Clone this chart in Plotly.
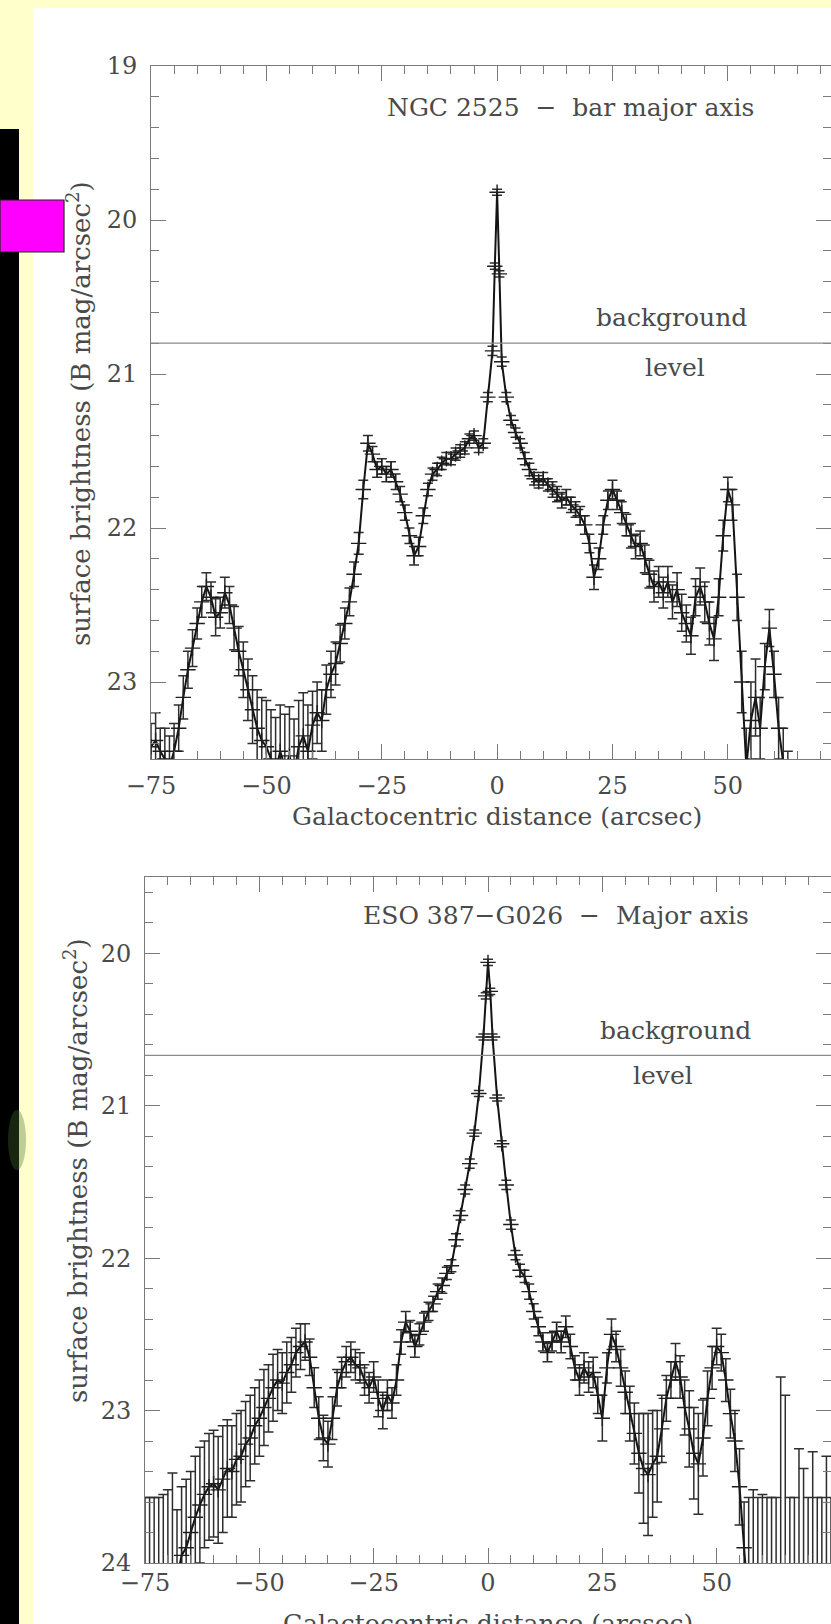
import plotly.graph_objects as go

# ---------------- Panel 1 : NGC 2525 - bar major axis ----------------
x1 = [-75, -74, -73, -72, -71, -70, -69, -68, -67, -66, -65, -64, -63, -62, -61, -60,
      -59, -58, -57, -56, -55, -54, -53, -52, -51, -50, -49, -48, -47, -46, -45, -44,
      -43, -42, -41, -40, -39, -38, -37, -36, -35, -34, -33, -32, -31, -30, -29, -28,
      -27, -26, -25, -24, -23, -22, -21, -20, -19, -18, -17, -16, -15, -14, -13, -12,
      -11, -10, -9, -8, -7, -6, -5, -4, -3, -2, -1, -0.5, 0, 0.5, 1, 2, 3, 4, 5, 6, 7,
      8, 9, 10, 11, 12, 13, 14, 15, 16, 17, 18, 19, 20, 21, 22, 23, 24, 25, 26, 27, 28,
      29, 30, 31, 32, 33, 34, 35, 36, 37, 38, 39, 40, 41, 42, 43, 44, 45, 46, 47, 48,
      49, 50, 51, 52, 53, 54, 55, 56, 57, 58, 59, 60, 61, 62, 63, 64]
y1 = [23.42, 23.38, 23.45, 23.50, 23.55, 23.45, 23.30, 23.10, 22.92, 22.78, 22.62, 22.48,
      22.38, 22.45, 22.58, 22.55, 22.42, 22.50, 22.65, 22.80, 22.92, 23.05, 23.18, 23.30,
      23.38, 23.42, 23.50, 23.58, 23.45, 23.55, 23.48, 23.60, 23.42, 23.35, 23.45, 23.28,
      23.20, 23.25, 23.05, 22.95, 22.88, 22.75, 22.62, 22.48, 22.30, 22.10, 21.75, 21.45,
      21.52, 21.62, 21.60, 21.65, 21.62, 21.70, 21.78, 21.90, 22.05, 22.18, 22.12, 21.92,
      21.75, 21.65, 21.62, 21.58, 21.55, 21.55, 21.52, 21.50, 21.48, 21.42, 21.40, 21.48,
      21.45, 21.15, 20.85, 20.30, 19.82, 20.35, 20.92, 21.15, 21.30, 21.38, 21.45, 21.55,
      21.62, 21.68, 21.70, 21.68, 21.72, 21.75, 21.78, 21.82, 21.80, 21.85, 21.88, 21.92,
      21.98, 22.10, 22.32, 22.20, 21.98, 21.82, 21.75, 21.82, 21.90, 21.98, 22.05, 22.12,
      22.10, 22.20, 22.30, 22.38, 22.35, 22.42, 22.35, 22.48, 22.40, 22.55, 22.62, 22.70,
      22.45, 22.38, 22.48, 22.62, 22.72, 22.45, 22.05, 21.75, 21.85, 22.45, 23.00, 23.55,
      23.25, 23.10, 23.30, 22.90, 22.65, 22.95, 23.30, 23.55, 23.75, 23.90]
e1 = [0.15, 0.18, 0.15, 0.20, 0.20, 0.18,
      0.15, 0.14, 0.12, 0.12, 0.10, 0.10, 0.09, 0.10, 0.12, 0.10,
      0.10, 0.12, 0.14, 0.16, 0.18, 0.20, 0.22, 0.25, 0.28, 0.30,
      0.32, 0.35, 0.30, 0.34, 0.32, 0.36, 0.30, 0.28, 0.30, 0.22,
      0.20, 0.20, 0.16, 0.15, 0.14, 0.12, 0.10, 0.09, 0.08, 0.07,
      0.06, 0.05, 0.05, 0.05, 0.05, 0.05, 0.05, 0.05, 0.05, 0.05,
      0.05, 0.06, 0.06, 0.05, 0.04, 0.04, 0.04, 0.04, 0.04, 0.04,
      0.04, 0.04, 0.04, 0.03, 0.03, 0.03, 0.03, 0.03, 0.03,
      0.02, 0.02, 0.02,
      0.03, 0.03, 0.03, 0.03, 0.03, 0.04, 0.04, 0.04, 0.04, 0.04,
      0.04, 0.05, 0.05, 0.05, 0.05, 0.05, 0.05, 0.06, 0.06, 0.06,
      0.08, 0.07, 0.06, 0.06, 0.06, 0.06, 0.07, 0.07, 0.08, 0.08,
      0.08, 0.09, 0.09, 0.10, 0.10, 0.10, 0.10, 0.11, 0.11, 0.12,
      0.12, 0.12, 0.12, 0.12, 0.13, 0.14, 0.14, 0.12, 0.10, 0.08,
      0.10, 0.15, 0.20, 0.25, 0.25, 0.25, 0.20, 0.15, 0.12, 0.15,
      0.20, 0.25, 0.30, 0.30]
background1 = 20.80

# ---------------- Panel 2 : ESO 387-G026 - Major axis ----------------
x2 = [-75, -74, -73, -72, -71, -70, -69, -68, -67, -66, -65, -64, -63, -62, -61, -60,
      -59, -58, -57, -56, -55, -54, -53, -52, -51, -50, -49, -48, -47, -46, -45, -44,
      -43, -42, -41, -40, -39, -38, -37, -36, -35, -34, -33, -32, -31, -30, -29, -28,
      -27, -26, -25, -24, -23, -22, -21, -20, -19, -18, -17, -16, -15, -14, -13, -12,
      -11, -10, -9, -8, -7, -6, -5, -4, -3, -2, -1, -0.5, 0, 0.5, 1, 2, 3, 4, 5, 6, 7,
      8, 9, 10, 11, 12, 13, 14, 15, 16, 17, 18, 19, 20, 21, 22, 23, 24, 25, 26, 27, 28,
      29, 30, 31, 32, 33, 34, 35, 36, 37, 38, 39, 40, 41, 42, 43, 44, 45, 46, 47, 48,
      49, 50, 51, 52, 53, 54, 55, 56, 57, 58, 59, 60, 61, 62, 63, 64, 65, 66, 67, 68,
      69, 70, 71, 72, 73, 74, 75]
y2 = [24.30, 24.30, 24.30, 24.30, 24.30, 24.30, 24.30,
      24.10, 23.95, 23.90, 23.80, 23.70, 23.62, 23.55, 23.50, 23.48,
      23.52, 23.45, 23.38, 23.40, 23.32, 23.30, 23.22, 23.18, 23.10, 23.05,
      22.98, 22.92, 22.85, 22.80, 22.82, 22.75, 22.70, 22.62, 22.58, 22.55,
      22.65, 22.85, 23.05, 23.18, 23.22, 23.05, 22.85, 22.75, 22.68, 22.65,
      22.70, 22.72, 22.80, 22.85, 22.78, 22.92, 23.00, 22.90, 22.95, 22.80,
      22.55, 22.42, 22.48, 22.58, 22.50, 22.42, 22.35, 22.30, 22.22, 22.18,
      22.10, 22.05, 21.88, 21.72, 21.55, 21.38, 21.18, 20.92, 20.55,
      20.28, 20.06, 20.25,
      20.55, 20.95, 21.25, 21.52, 21.78, 21.98, 22.08, 22.12, 22.22, 22.35,
      22.45, 22.55, 22.62, 22.55, 22.48, 22.55, 22.45, 22.58, 22.72, 22.80,
      22.72, 22.78, 22.75, 22.90, 23.05, 22.72, 22.50, 22.58, 22.72, 22.88,
      23.02, 23.15, 23.28, 23.38, 23.42, 23.35, 23.30, 23.12, 22.92, 22.80,
      22.68, 22.78, 22.98, 23.12, 23.28, 23.35, 23.18, 22.92, 22.72, 22.58,
      22.62, 22.80, 23.02, 23.20, 23.50, 23.90,
      24.30, 24.30, 24.30, 24.30, 24.30, 24.30, 24.30, 24.30, 24.30, 24.30,
      24.30, 24.30, 24.30, 24.30, 24.30, 24.30, 24.30, 24.30, 24.30]
e2_up = [0.73, 0.73, 0.73, 0.73, 0.75, 0.78, 0.89,
         0.45, 0.45, 0.45, 0.40, 0.40, 0.38, 0.35, 0.35, 0.35,
         0.35, 0.35, 0.32, 0.30, 0.30, 0.30, 0.28, 0.28, 0.25, 0.25,
         0.25, 0.22, 0.22, 0.20, 0.20, 0.20, 0.18, 0.16, 0.15, 0.12,
         0.12, 0.13, 0.14, 0.15, 0.15, 0.14, 0.12, 0.10, 0.10, 0.10,
         0.10, 0.10, 0.10, 0.10, 0.10, 0.12, 0.12, 0.10, 0.10, 0.10,
         0.08, 0.07, 0.07, 0.07, 0.07, 0.06, 0.06, 0.05, 0.05, 0.05,
         0.04, 0.04, 0.04, 0.03, 0.03, 0.03, 0.02, 0.02, 0.02,
         0.02, 0.02, 0.02,
         0.02, 0.02, 0.02, 0.03, 0.03, 0.03, 0.04, 0.04, 0.05, 0.05,
         0.06, 0.06, 0.06, 0.06, 0.06, 0.07, 0.07, 0.08, 0.08, 0.10,
         0.10, 0.10, 0.10, 0.12, 0.15, 0.10, 0.10, 0.10, 0.12, 0.14,
         0.18, 0.20, 0.26, 0.36, 0.40, 0.35, 0.30, 0.22, 0.15, 0.12,
         0.12, 0.14, 0.18, 0.25, 0.30, 0.33, 0.25, 0.18, 0.14, 0.12,
         0.12, 0.14, 0.16, 0.20, 0.25, 0.30,
         0.73, 0.78, 0.73, 0.75, 0.73, 0.73, 0.73, 1.52, 1.40, 0.73,
         0.73, 1.05, 0.92, 0.73, 1.03, 0.73, 0.73, 1.00, 0.73]
e2_down = [0.30, 0.30, 0.30, 0.30, 0.30, 0.30, 0.30,
           0.45, 0.45, 0.45, 0.40, 0.40, 0.38, 0.35, 0.35, 0.35,
           0.35, 0.35, 0.32, 0.30, 0.30, 0.30, 0.28, 0.28, 0.25, 0.25,
           0.25, 0.22, 0.22, 0.20, 0.20, 0.20, 0.18, 0.16, 0.15, 0.12,
           0.12, 0.13, 0.14, 0.15, 0.15, 0.14, 0.12, 0.10, 0.10, 0.10,
           0.10, 0.10, 0.10, 0.10, 0.10, 0.12, 0.12, 0.10, 0.10, 0.10,
           0.08, 0.07, 0.07, 0.07, 0.07, 0.06, 0.06, 0.05, 0.05, 0.05,
           0.04, 0.04, 0.04, 0.03, 0.03, 0.03, 0.02, 0.02, 0.02,
           0.02, 0.02, 0.02,
           0.02, 0.02, 0.02, 0.03, 0.03, 0.03, 0.04, 0.04, 0.05, 0.05,
           0.06, 0.06, 0.06, 0.06, 0.06, 0.07, 0.07, 0.08, 0.08, 0.10,
           0.10, 0.10, 0.10, 0.12, 0.15, 0.10, 0.10, 0.10, 0.12, 0.14,
           0.18, 0.20, 0.26, 0.36, 0.40, 0.35, 0.30, 0.22, 0.15, 0.12,
           0.12, 0.14, 0.18, 0.25, 0.30, 0.33, 0.25, 0.18, 0.14, 0.12,
           0.12, 0.14, 0.16, 0.20, 0.25, 0.30,
           0.30, 0.30, 0.30, 0.30, 0.30, 0.30, 0.30, 0.30, 0.30, 0.30,
           0.30, 0.30, 0.30, 0.30, 0.30, 0.30, 0.30, 0.30, 0.30]
background2 = 20.67

x_ticks = [-75, -50, -25, 0, 25, 50, 75]
x_tick_labels = ["\u221275", "\u221250", "\u221225", "0", "25", "50", "75"]

W, H = 831, 1624
FONT = "DejaVu Serif"
TXT = "#4a4a4a"
AX = "#7a7a7a"


def px_x(p):
    return p / W


def px_y(p):
    return 1 - p / H


fig = go.Figure()

for xs, ys, up, dn, xa, ya in [
    (x1, y1, e1, e1, "x", "y"),
    (x2, y2, e2_up, e2_down, "x2", "y2"),
]:
    fig.add_trace(go.Scatter(
        x=xs, y=ys, xaxis=xa, yaxis=ya, mode="lines+markers",
        line=dict(color="#141414", width=2),
        marker=dict(symbol="cross-thin", size=11, line=dict(width=1.4, color="#1e1e1e")),
        error_y=dict(type="data", symmetric=False, array=dn, arrayminus=up,
                     color="#2e2e2e", thickness=1.5, width=5),
        showlegend=False, hoverinfo="skip", cliponaxis=True,
    ))

axis_common = dict(
    showline=True, linecolor=AX, linewidth=1, mirror="allticks",
    ticks="inside", ticklen=15, tickcolor=AX, tickwidth=1,
    showgrid=False, zeroline=False, automargin=False,
    tickfont=dict(family=FONT, size=24, color=TXT),
)
xminor = dict(dtick=5, ticks="inside", ticklen=8, tickcolor=AX, showgrid=False)
yminor = dict(dtick=0.2, ticks="inside", ticklen=8, tickcolor=AX, showgrid=False)

fig.update_layout(
    width=W, height=H,
    margin=dict(l=0, r=0, t=0, b=0, pad=0, autoexpand=False),
    paper_bgcolor="#FFFFCC", plot_bgcolor="white",
    xaxis=dict(domain=[px_x(151), 1.0], range=[-75, 72.35], anchor="y",
               tickmode="array", tickvals=x_ticks, ticktext=x_tick_labels,
               minor=xminor, ticklabelstandoff=5, **axis_common),
    yaxis=dict(domain=[px_y(759), px_y(66)], range=[23.5, 19], anchor="x",
               tick0=0, dtick=1, minor=yminor, ticklabelstandoff=8, **axis_common),
    xaxis2=dict(domain=[px_x(145), 1.0], range=[-75, 75], anchor="y2",
                tickmode="array", tickvals=x_ticks, ticktext=x_tick_labels,
                minor=xminor, ticklabelstandoff=-2, **axis_common),
    yaxis2=dict(domain=[px_y(1563), px_y(877)], range=[24, 19.5], anchor="x2",
                tick0=0, dtick=1, minor=yminor, ticklabelstandoff=8, **axis_common),
)

# background level lines (data y, across each panel)
fig.add_shape(type="line", xref="x domain", yref="y", x0=0, x1=1,
              y0=background1, y1=background1, line=dict(color="#8a8a8a", width=1.2))
fig.add_shape(type="line", xref="x2 domain", yref="y2", x0=0, x1=1,
              y0=background2, y1=background2, line=dict(color="#8a8a8a", width=1.2))

# slide decorations (paper coordinates)
fig.add_shape(type="rect", xref="paper", yref="paper", x0=px_x(33), x1=1.0,
              y0=0, y1=px_y(8), fillcolor="white", line_width=0, layer="below")
fig.add_shape(type="rect", xref="paper", yref="paper", x0=0, x1=px_x(19),
              y0=0, y1=px_y(129), fillcolor="black", line_width=0, layer="below")
fig.add_shape(type="circle", xref="paper", yref="paper", x0=px_x(8), x1=px_x(26),
              y0=px_y(1170), y1=px_y(1110), fillcolor="rgba(70,110,50,0.35)",
              line_width=0, layer="below")
fig.add_shape(type="rect", xref="paper", yref="paper", x0=0, x1=px_x(64),
              y0=px_y(252), y1=px_y(200), fillcolor="#FF00FF",
              line=dict(color="#222", width=1.2), layer="above")

tf = dict(family=FONT, size=25, color=TXT)
ann = [
    dict(text="NGC 2525  \u2212  bar major axis", x=15.8, y=19.27, xref="x", yref="y"),
    dict(text="background", x=37.7, y=20.63, xref="x", yref="y"),
    dict(text="level", x=38.6, y=20.96, xref="x", yref="y"),
    dict(text="ESO 387\u2212G026  \u2212  Major axis", x=14.9, y=19.75, xref="x2", yref="y2"),
    dict(text="background", x=41.0, y=20.51, xref="x2", yref="y2"),
    dict(text="level", x=38.3, y=20.80, xref="x2", yref="y2"),
]
for a in ann:
    fig.add_annotation(showarrow=False, font=tf, xanchor="center", yanchor="middle", **a)

fig.add_annotation(text="Galactocentric distance (arcsec)", x=px_x(497), y=px_y(817),
                   xref="paper", yref="paper", showarrow=False, font=tf,
                   xanchor="center", yanchor="middle")
fig.add_annotation(text="Galactocentric distance (arcsec)", x=px_x(488), y=px_y(1607),
                   xref="paper", yref="paper", showarrow=False, font=tf,
                   xanchor="center", yanchor="top")
yt = dict(family=FONT, size=26, color=TXT)
fig.add_annotation(text="surface brightness (B mag/arcsec<sup>2</sup>)", x=px_x(79),
                   y=px_y(414), xref="paper", yref="paper", showarrow=False, font=yt,
                   textangle=-90, xanchor="center", yanchor="middle")
fig.add_annotation(text="surface brightness (B mag/arcsec<sup>2</sup>)", x=px_x(76),
                   y=px_y(1171), xref="paper", yref="paper", showarrow=False, font=yt,
                   textangle=-90, xanchor="center", yanchor="middle")

fig.write_html("out.html")
